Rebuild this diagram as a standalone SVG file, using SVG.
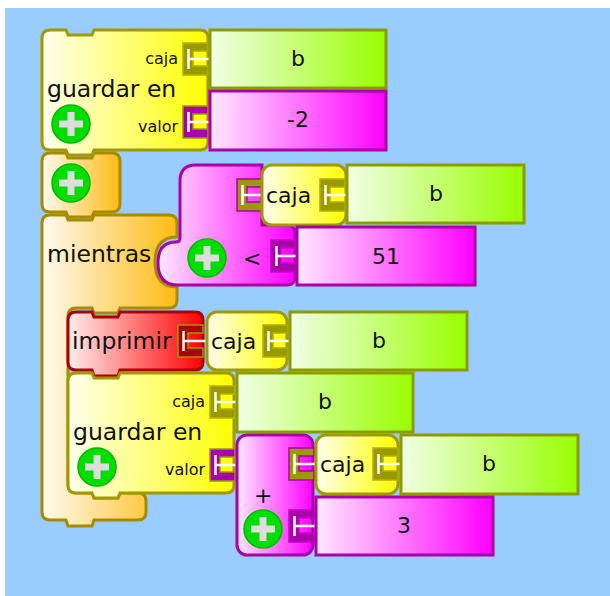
<svg xmlns="http://www.w3.org/2000/svg" xmlns:xlink="http://www.w3.org/1999/xlink" width="610" height="596" viewBox="0 0 610 596">
<style>
.t{font-family:"DejaVu Sans",Verdana,sans-serif;font-size:22px;fill:#111}
.L{font-size:23.5px}
.s{font-family:"DejaVu Sans",Verdana,sans-serif;font-size:16px;fill:#111}
.c{text-anchor:middle}
.e{text-anchor:end}
.yb{fill:url(#gY);stroke:#a09a00;stroke-width:3}
.gb{fill:url(#gG);stroke:#8c9c00;stroke-width:3}
.mb{fill:url(#gM);stroke:#aa00aa;stroke-width:3}
.ob{fill:url(#gO);stroke:#a88a00;stroke-width:3}
.rb{fill:url(#gR);stroke:#aa0000;stroke-width:3}
.pin{fill:none;stroke:#fff;stroke-width:2.5}
</style>
<defs>
<linearGradient id="gY" x1="0" y1="0" x2="1" y2="0"><stop offset="0" stop-color="#ffffee"/><stop offset="1" stop-color="#ffff00"/></linearGradient>
<linearGradient id="gG" x1="0" y1="0" x2="1" y2="0"><stop offset="0" stop-color="#f2ffe6"/><stop offset="1" stop-color="#99ff00"/></linearGradient>
<linearGradient id="gM" x1="0" y1="0" x2="1" y2="0"><stop offset="0" stop-color="#ffe8ff"/><stop offset="1" stop-color="#ff00ff"/></linearGradient>
<linearGradient id="gO" x1="0" y1="0" x2="1" y2="0"><stop offset="0" stop-color="#fffaf0"/><stop offset="1" stop-color="#ffbb11"/></linearGradient>
<linearGradient id="gR" x1="0" y1="0" x2="1" y2="0"><stop offset="0" stop-color="#ffeeee"/><stop offset="1" stop-color="#ff0000"/></linearGradient>
<path id="sockShape" d="M0,0 H25 V8 H10 V23 H25 V32 H0 Z"/>
<g id="sockO"><use xlink:href="#sockShape" fill="#9a9a00" stroke="#b4b000" stroke-width="1.5"/><path class="pin" d="M5.5,6 V26 M5.5,16 H28"/></g>
<g id="sockP"><use xlink:href="#sockShape" fill="#aa00aa" stroke="#9a9a00" stroke-width="1.5"/><path class="pin" d="M5.5,6 V26 M5.5,16 H28"/></g>
<g id="sockPP"><use xlink:href="#sockShape" fill="#aa00aa" stroke="#cc00cc" stroke-width="1.5"/><path class="pin" d="M5.5,6 V26 M5.5,16 H28"/></g>
<g id="sockMO"><use xlink:href="#sockShape" fill="#9a9a00" stroke="#aa00aa" stroke-width="1.5"/><path class="pin" d="M5.5,6 V26 M5.5,16 H28"/></g>
<g id="sockRO"><use xlink:href="#sockShape" fill="#aa0000" stroke="#9a9a00" stroke-width="1.5"/><path class="pin" d="M5.5,6 V26 M5.5,16 H28"/></g>
<g id="plus"><circle r="19" fill="#00dd00" stroke="#00b800" stroke-width="1.5"/><path d="M-12,0 H12 M0,-12 V12" stroke="#dddddd" stroke-width="7"/></g>
<path id="guardarShape" d="M8,0 H24 L26,5 H50 L52,0 H158 Q166,0 166,8 V112 Q166,120 158,120 H52 L50,125 H26 L24,120 H8 Q0,120 0,112 V8 Q0,0 8,0 Z"/>
</defs>
<rect x="0" y="0" width="610" height="596" fill="#ffffff"/>
<rect x="5" y="8" width="605" height="588" fill="#99ccff"/>

<g id="connectors"></g>

<g id="mientras">
<path class="ob" d="M50,215 H66 L68,220 H92 L94,215 H169 Q177,215 177,223 V237 Q155,237 155,262 Q155,287 177,287 V300 Q177,308 169,308 H120 L118,313 H94 L92,308 H76 Q68,308 68,316 V485 Q68,493 76,493 H92 L94,498 H118 L120,493 H138 Q146,493 146,501 V512 Q146,520 138,520 H94 L92,526 H68 L66,520 H50 Q42,520 42,512 V223 Q42,215 50,215 Z"/>
<text class="t L" x="47" y="262">mientras</text>
</g>

<g id="mas-bloque">
<path class="ob" d="M50,153 H66 L68,158 H92 L94,153 H112 Q120,153 120,161 V204 Q120,212 112,212 H94 L92,217 H68 L66,212 H50 Q42,212 42,204 V161 Q42,153 50,153 Z"/>
<use xlink:href="#plus" x="71" y="183"/>
</g>

<g id="guardar1">
<use xlink:href="#guardarShape" x="42" y="30" class="yb"/>
<text class="s e" x="178" y="64">caja</text>
<text class="t L" x="47" y="97">guardar en</text>
<text class="s e" x="178" y="132">valor</text>
<use xlink:href="#plus" x="71" y="124"/>
<use xlink:href="#sockO" x="183" y="43"/>
<use xlink:href="#sockP" x="183" y="106"/>
</g>
<g id="b1"><rect class="gb" x="210" y="30" width="176" height="58"/><text class="t c" x="298" y="66">b</text></g>
<g id="m2"><rect class="mb" x="210" y="91" width="176" height="59"/><text class="t c" x="298" y="127">-2</text></g>

<g id="menor">
<path class="mb" d="M196,165 H262 V225 H287 Q295,225 295,233 V277 Q295,285 287,285 H178 Q158,285 158,263 Q158,242 176,242 Q180,242 180,238 V181 Q180,165 196,165 Z"/>
<use xlink:href="#plus" x="207" y="258"/>
<text class="t" x="243" y="266">&lt;</text>
<use xlink:href="#sockMO" x="237" y="179"/>
<use xlink:href="#sockPP" x="271" y="240"/>
</g>
<g id="caja1"><rect class="yb" x="262" y="165" width="84" height="60" rx="10"/><text class="t" x="266" y="203">caja</text><use xlink:href="#sockO" x="320" y="179"/></g>
<g id="b2"><rect class="gb" x="347" y="165" width="177" height="58"/><text class="t c" x="436" y="201">b</text></g>
<g id="n51"><rect class="mb" x="297" y="227" width="178" height="58"/><text class="t c" x="386" y="264">51</text></g>

<g id="imprimir">
<path class="rb" d="M76,312 H92 L94,317 H118 L120,312 H195 Q203,312 203,320 V362 Q203,370 195,370 H120 L118,376 H94 L92,370 H76 Q68,370 68,362 V320 Q68,312 76,312 Z"/>
<text class="t L" x="72" y="349">imprimir</text>
<use xlink:href="#sockRO" x="178" y="325"/>
</g>
<g id="caja2"><rect class="yb" x="207" y="312" width="80" height="58" rx="10"/><text class="t" x="211" y="349">caja</text><use xlink:href="#sockO" x="263" y="325"/></g>
<g id="b3"><rect class="gb" x="290" y="312" width="177" height="58"/><text class="t c" x="379" y="348">b</text></g>

<g id="guardar2">
<use xlink:href="#guardarShape" x="68" y="373" class="yb"/>
<text class="s e" x="205" y="407">caja</text>
<text class="t L" x="73" y="440">guardar en</text>
<text class="s e" x="205" y="475">valor</text>
<use xlink:href="#plus" x="97" y="467"/>
<use xlink:href="#sockO" x="210" y="386"/>
<use xlink:href="#sockP" x="210" y="449"/>
</g>
<g id="b4"><rect class="gb" x="237" y="373" width="176" height="59"/><text class="t c" x="325" y="409">b</text></g>

<g id="suma">
<rect class="mb" x="237" y="435" width="76" height="120" rx="10"/>
<text class="t" x="254" y="503">+</text>
<use xlink:href="#plus" x="263" y="529"/>
<use xlink:href="#sockMO" x="289" y="448"/>
<use xlink:href="#sockPP" x="289" y="510"/>
</g>
<g id="caja3"><rect class="yb" x="316" y="435" width="82" height="59" rx="10"/><text class="t" x="320" y="472">caja</text><use xlink:href="#sockO" x="373" y="448"/></g>
<g id="b5"><rect class="gb" x="401" y="435" width="177" height="59"/><text class="t c" x="489" y="471">b</text></g>
<g id="n3"><rect class="mb" x="316" y="497" width="177" height="58"/><text class="t c" x="404" y="533">3</text></g>
</svg>
